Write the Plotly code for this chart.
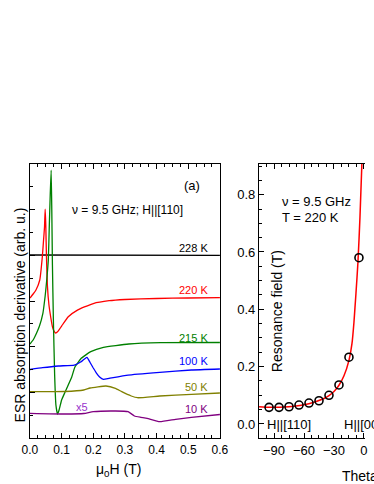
import plotly.graph_objects as go

# ---------------- Panel (a): ESR derivative spectra (arb. u.) ----------------
field_228 = [0.0, 0.6]
esr_228 = [4.007, 4.0]

field_220 = [0.000, 0.010, 0.019, 0.031, 0.039, 0.043, 0.046, 0.048, 0.050, 0.052, 0.055,
             0.060, 0.066, 0.071, 0.076, 0.081, 0.088, 0.100, 0.121, 0.150, 0.172, 0.200,
             0.250, 0.300, 0.400, 0.500, 0.600]
esr_220 = [3.066, 3.153, 3.241, 3.460, 3.963, 4.335, 4.620, 5.014, 4.664, 4.007, 3.350,
           2.912, 2.628, 2.437, 2.343, 2.299, 2.332, 2.452, 2.656, 2.800, 2.870, 2.945,
           3.006, 3.033, 3.055, 3.066, 3.076]

field_215 = [0.000, 0.010, 0.021, 0.030, 0.041, 0.048, 0.053, 0.058, 0.061, 0.064, 0.067,
             0.069, 0.071, 0.074, 0.078, 0.082, 0.087, 0.092, 0.100, 0.111, 0.132, 0.142,
             0.162, 0.192, 0.232, 0.312, 0.413, 0.600]
esr_215 = [2.058, 2.146, 2.299, 2.452, 2.737, 3.109, 3.460, 3.898, 4.620, 5.321, 5.868,
           4.992, 3.788, 2.584, 1.379, 0.723, 0.526, 0.613, 0.832, 1.007, 1.336, 1.555,
           1.745, 1.890, 1.986, 2.058, 2.087, 2.091]

field_100 = [0.00, 0.04, 0.09, 0.14, 0.16, 0.17, 0.18, 0.19, 0.20, 0.21, 0.22, 0.232,
             0.25, 0.31, 0.41, 0.51, 0.60]
esr_100 = [1.500, 1.539, 1.577, 1.598, 1.664, 1.719, 1.763, 1.653, 1.533, 1.423, 1.336,
           1.285, 1.307, 1.379, 1.439, 1.489, 1.511]

field_50 = [0.00, 0.11, 0.17, 0.19, 0.24, 0.27, 0.29, 0.32, 0.34, 0.41, 0.51, 0.60]
esr_50 = [1.014, 1.018, 1.051, 1.095, 1.139, 1.088, 1.014, 0.920, 0.882, 0.920, 0.957, 0.985]

field_10 = [0.00, 0.11, 0.17, 0.20, 0.27, 0.31, 0.33, 0.35, 0.37, 0.41, 0.46, 0.51, 0.60]
esr_10 = [0.541, 0.526, 0.536, 0.576, 0.591, 0.576, 0.482, 0.453, 0.431, 0.357, 0.409,
          0.453, 0.515]

# ---------------- Panel (b): resonance field vs angle ----------------
theta_pts = [-95, -85, -75, -65, -55, -45, -35, -25, -15, -5]
hres_pts = [0.058, 0.058, 0.060, 0.066, 0.073, 0.081, 0.100, 0.136, 0.233, 0.580]

theta_fit = [-105, -95, -90, -80, -70, -60, -50, -40, -35, -30, -25, -20, -15, -12,
             -10, -9, -8, -6, -4, -2]
hres_fit = [0.060, 0.058, 0.058, 0.059, 0.062, 0.067, 0.076, 0.089, 0.099, 0.113,
            0.135, 0.168, 0.222, 0.280, 0.355, 0.405, 0.455, 0.565, 0.720, 0.915]

W, H = 374, 484
FONT = "Liberation Sans, Arial, sans-serif"


def px(x):
    return x / W


def py(y):
    return 1 - y / H


fig = go.Figure()

series = [
    (field_228, esr_228, "black"),
    (field_220, esr_220, "#FF0000"),
    (field_215, esr_215, "#008000"),
    (field_100, esr_100, "#0000FF"),
    (field_50, esr_50, "#808000"),
    (field_10, esr_10, "#800080"),
]
for xs, ys, col in series:
    fig.add_trace(go.Scatter(x=xs, y=ys, mode="lines", line=dict(color=col, width=1.3, shape="spline", smoothing=0.4),
                             xaxis="x", yaxis="y", showlegend=False, hoverinfo="skip"))

fig.add_trace(go.Scatter(x=theta_fit, y=hres_fit, mode="lines",
                         line=dict(color="#FF0000", width=1.5, shape="spline", smoothing=0.6),
                         xaxis="x2", yaxis="y2", showlegend=False, hoverinfo="skip"))
fig.add_trace(go.Scatter(x=theta_pts, y=hres_pts, mode="markers",
                         marker=dict(symbol="circle-open", size=8, color="black", line=dict(width=1.6)),
                         xaxis="x2", yaxis="y2", showlegend=False, hoverinfo="skip"))

axis_common = dict(showline=True, linecolor="black", linewidth=1.2, ticks="inside",
                   tickcolor="black", ticklen=5, tickwidth=1, showgrid=False, zeroline=False)

ydom = [py(438), py(164)]

fig.update_layout(
    width=W, height=H, autosize=False, margin=dict(l=0, r=0, t=0, b=0),
    paper_bgcolor="white", plot_bgcolor="white",
    font=dict(family=FONT, color="black"),
    xaxis=dict(domain=[px(23), px(222)], range=[0, 0.6], dtick=0.1, tickformat=".1f",
               mirror="ticks", tickfont=dict(size=12),
               minor=dict(dtick=0.025, ticklen=3, ticks="inside", tickcolor="black"),
               anchor="y", **axis_common),
    yaxis=dict(domain=ydom, range=[0, 6], dtick=1, showticklabels=False, mirror=True,
               minor=dict(dtick=0.5, ticklen=3, ticks="inside", tickcolor="black"),
               anchor="x", **axis_common),
    xaxis2=dict(domain=[px(263), 1.0], range=[-105, 1.05], tickvals=[-90, -60, -30, 0],
                mirror="ticks", tickfont=dict(size=13),
                minor=dict(dtick=7.5, ticklen=3, ticks="inside", tickcolor="black"),
                anchor="y2", **axis_common),
    yaxis2=dict(domain=ydom, range=[-0.049, 0.907], dtick=0.2, tickformat=".1f",
                tickfont=dict(size=13),
                minor=dict(dtick=0.05, ticklen=3, ticks="inside", tickcolor="black"),
                anchor="x2", **axis_common),
)

ann = []


def text(x, y, s, size, color="black", xanchor="center", angle=0):
    ann.append(dict(x=px(x), y=py(y), xref="paper", yref="paper", text=s, showarrow=False,
                    xanchor=xanchor, yanchor="middle", textangle=angle,
                    font=dict(size=size, color=color, family=FONT)))


text(193, 185, "(a)", 13)
text(65, 210, "ν = 9.5 GHz; H||[110]", 12, xanchor="left")
text(211.5, 248, "228 K", 11, "black", "right")
text(211.5, 290, "220 K", 11, "#FF0000", "right")
text(211.5, 338, "215 K", 11, "#008000", "right")
text(211.5, 361, "100 K", 11, "#0000FF", "right")
text(211.5, 387, "50 K", 11, "#808000", "right")
text(211.5, 409, "10 K", 11, "#800080", "right")
text(78, 407, "x5", 11, "#9933CC")
text(116, 470, "μ<sub>0</sub>H (T)", 14)
text(13, 315, "ESR absorption derivative (arb. u.)", 14, angle=-90)

text(285, 201, "ν = 9.5 GHz", 13, xanchor="left")
text(285, 217, "T = 220 K", 13, xanchor="left")
text(282, 311, "Resonance field (T)", 14, angle=-90)
text(269, 424, "H||[110]", 13, xanchor="left")
text(350, 424, "H||[001]", 13, xanchor="left")
text(348, 476, "Theta (deg)", 14, xanchor="left")

fig.update_layout(annotations=ann)

fig.write_html(
    "out.html",
    config={"responsive": False, "displayModeBar": False},
    post_script="document.body.style.margin='0';document.body.style.overflow='hidden';",
)
